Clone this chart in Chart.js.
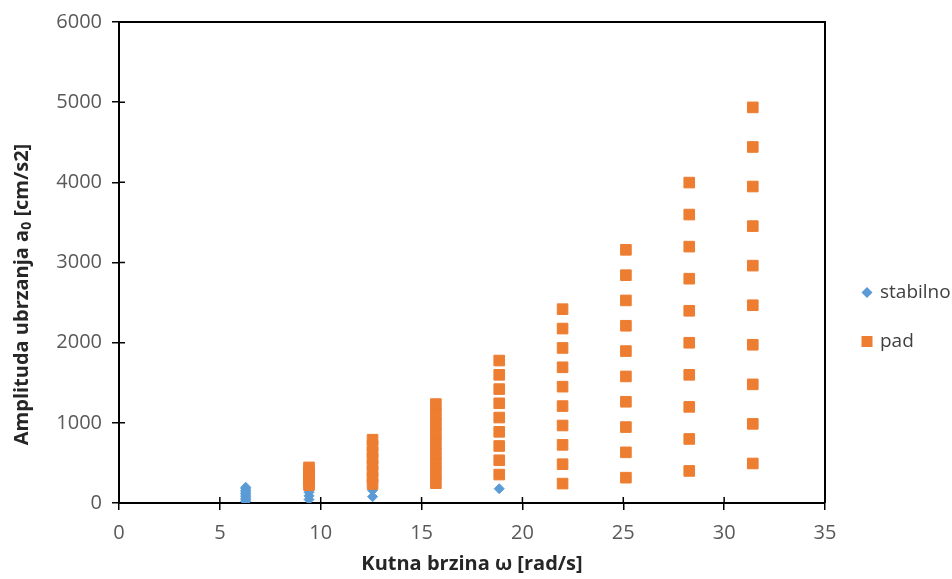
<!DOCTYPE html>
<html>
<head>
<meta charset="utf-8">
<script src="https://cdn.jsdelivr.net/npm/chart.js@4.4.0/dist/chart.umd.min.js"></script>
<style>
  html, body { margin: 0; padding: 0; background: #fff; }
  #wrap { width: 952px; height: 579px; }
</style>
</head>
<body>
<div id="wrap"><canvas id="ampChart"></canvas></div>
<script>
// kutne brzine stupaca [rad/s]
const omega = [6.28, 9.42, 12.57, 15.71, 18.85, 21.99, 25.13, 28.27, 31.42];

// amplitude ubrzanja [cm/s2] za svaki stupac - stabilno
const stabilnoY = [
    [20, 39, 59, 79, 99, 118, 138, 158, 178, 197],
    [44, 89, 133, 178],
    [79, 158],
    [],
    [178],
    [],
    [],
    [],
    []
];

// amplitude ubrzanja [cm/s2] za svaki stupac - pad
const padY = [
    [],
    [222, 266, 311, 355, 400, 444],
    [237, 316, 395, 474, 553, 632, 711, 790],
    [247, 370, 493, 617, 740, 863, 987, 1110, 1234],
    [355, 533, 711, 888, 1066, 1244, 1421, 1599, 1777],
    [242, 484, 725, 967, 1209, 1451, 1693, 1934, 2176, 2418],
    [316, 632, 947, 1263, 1579, 1895, 2211, 2527, 2842, 3158],
    [400, 799, 1199, 1599, 1999, 2398, 2798, 3198, 3598, 3997],
    [493, 987, 1480, 1974, 2467, 2961, 3454, 3948, 4441, 4935]
];

const naziviSerija = ["stabilno", "pad"];
const bojeSerija = ["#5B9BD5", "#ED7D31"];

const fontFam = "'Open Sans', 'DejaVu Sans', sans-serif";

// pretvara stupce u tocke {x, y}
function toPoints(cols) {
    let pts = [];
    for (let i = 0; i < omega.length; i++) {
        cols[i].forEach(v => pts.push({ x: omega[i], y: v }));
    }
    return pts;
}

// okvir grafa, unutarnje crtice, naslov osi y i legenda
const okvirPlugin = {
    id: "okvir",
    afterDraw(chart) {
        const ctx = chart.ctx;
        const a = chart.chartArea;
        const xs = chart.scales.x;
        const ys = chart.scales.y;

        ctx.save();
        ctx.strokeStyle = "#000";
        ctx.lineWidth = 2;
        ctx.beginPath();
        ctx.moveTo(a.left, a.top);
        ctx.lineTo(a.right, a.top);
        ctx.lineTo(a.right, a.bottom);
        ctx.stroke();

        // crtice prelaze preko osi
        ctx.lineWidth = 1.5;
        ctx.beginPath();
        xs.ticks.forEach((t, i) => {
            const px = xs.getPixelForTick(i);
            ctx.moveTo(px, a.bottom);
            ctx.lineTo(px, a.bottom - 6);
        });
        ys.ticks.forEach((t, i) => {
            const py = ys.getPixelForTick(i);
            ctx.moveTo(a.left, py);
            ctx.lineTo(a.left + 6, py);
        });
        ctx.stroke();

        // naslov osi y sa indeksom
        const cx = 22;
        const cy = (a.top + a.bottom) / 2 + 32;
        const big = "bold 20px " + fontFam;
        const small = "bold 14px " + fontFam;
        const p1 = "Amplituda ubrzanja a";
        const p2 = "0";
        const p3 = " [cm/s2]";
        ctx.font = big;
        const w1 = ctx.measureText(p1).width;
        const w3 = ctx.measureText(p3).width;
        ctx.font = small;
        const w2 = ctx.measureText(p2).width;
        const total = w1 + w2 + w3;
        ctx.translate(cx, cy);
        ctx.rotate(-Math.PI / 2);
        ctx.fillStyle = "#262626";
        ctx.textBaseline = "middle";
        ctx.textAlign = "left";
        ctx.font = big;
        ctx.fillText(p1, -total / 2, 0);
        ctx.font = small;
        ctx.fillText(p2, -total / 2 + w1, 5);
        ctx.font = big;
        ctx.fillText(p3, -total / 2 + w1 + w2, 0);
        ctx.restore();

        // legenda desno od grafa
        ctx.save();
        const lx = a.right + 42;
        const ly = (a.top + a.bottom) / 2 + 54;
        ctx.font = "19px " + fontFam;
        ctx.textBaseline = "middle";
        naziviSerija.forEach((naziv, i) => {
            const y = ly + (i === 0 ? -24 : 25);
            ctx.fillStyle = bojeSerija[i];
            ctx.beginPath();
            if (i === 0) {
                ctx.moveTo(lx, y - 5.5);
                ctx.lineTo(lx + 5.5, y);
                ctx.lineTo(lx, y + 5.5);
                ctx.lineTo(lx - 5.5, y);
            } else {
                ctx.rect(lx - 5.5, y - 5.5, 11, 11);
            }
            ctx.closePath();
            ctx.fill();
            ctx.fillStyle = "#404040";
            ctx.fillText(naziv, lx + 13, y);
        });
        ctx.restore();
    }
};

const ctx = document.getElementById("ampChart").getContext("2d");

new Chart(ctx, {
    type: "scatter",
    data: {
        datasets: [
            {
                label: naziviSerija[0],
                data: toPoints(stabilnoY),
                pointStyle: "rectRot",
                pointRadius: 5,
                pointBackgroundColor: bojeSerija[0],
                pointBorderColor: bojeSerija[0],
                pointBorderWidth: 1,
                order: 1
            },
            {
                label: naziviSerija[1],
                data: toPoints(padY),
                pointStyle: "rect",
                pointRadius: 7.5,
                pointBackgroundColor: bojeSerija[1],
                pointBorderColor: bojeSerija[1],
                pointBorderWidth: 1,
                order: 0
            }
        ]
    },
    options: {
        responsive: true,
        maintainAspectRatio: false,
        animation: false,
        layout: {
            padding: { top: 20, right: 127, bottom: 0, left: 0 }
        },
        plugins: {
            legend: { display: false },
            tooltip: { enabled: false }
        },
        scales: {
            x: {
                type: "linear",
                min: 0,
                max: 35,
                afterFit: s => { s.height = 76; },
                ticks: {
                    stepSize: 5,
                    padding: 11,
                    color: "#595959",
                    font: { family: fontFam, size: 20 }
                },
                grid: {
                    drawOnChartArea: false,
                    tickLength: 7,
                    color: "#000",
                    lineWidth: 1.5
                },
                border: { color: "#000", width: 2 },
                title: {
                    display: true,
                    text: "Kutna brzina ω [rad/s]",
                    color: "#262626",
                    font: { family: fontFam, size: 20, weight: "bold" },
                    padding: { top: 0, bottom: 3 }
                }
            },
            y: {
                min: 0,
                max: 6000,
                afterFit: s => { s.width = 119; },
                ticks: {
                    stepSize: 1000,
                    padding: 10,
                    color: "#595959",
                    font: { family: fontFam, size: 20 },
                    callback: v => String(v)
                },
                grid: {
                    drawOnChartArea: false,
                    tickLength: 7,
                    color: "#000",
                    lineWidth: 1.5
                },
                border: { color: "#000", width: 2 }
            }
        }
    },
    plugins: [okvirPlugin]
});
</script>
</body>
</html>
